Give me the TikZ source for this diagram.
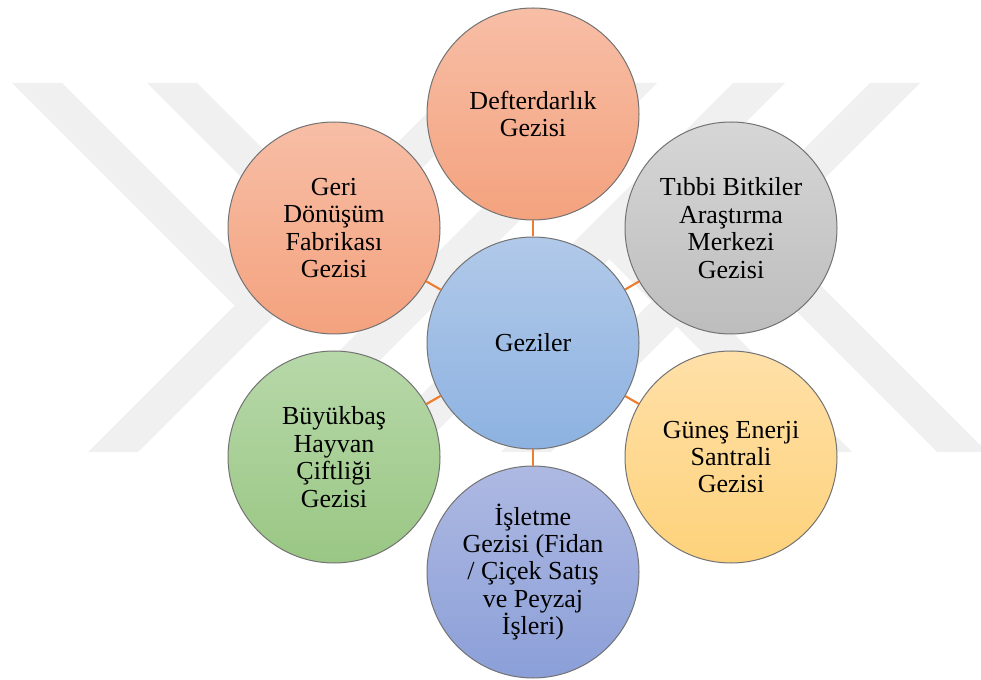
\documentclass[tikz,border=0pt]{standalone}
\usepackage{fontspec}
\setmainfont{Liberation Serif}
\definecolor{gzOrange}{HTML}{ED7D31}
\definecolor{salmonTop}{HTML}{F7BEA6}
\definecolor{salmonBot}{HTML}{F4A27E}
\definecolor{greyTop}{HTML}{D6D6D6}
\definecolor{greyBot}{HTML}{BDBDBD}
\definecolor{blueTop}{HTML}{B1C9E9}
\definecolor{blueBot}{HTML}{8DB2E1}
\definecolor{sunTop}{HTML}{FFE0A8}
\definecolor{sunBot}{HTML}{FED27B}
\definecolor{lilacTop}{HTML}{AEB9E2}
\definecolor{lilacBot}{HTML}{8B9FD8}
\definecolor{leafTop}{HTML}{B7D8A9}
\definecolor{leafBot}{HTML}{9AC784}
\begin{document}
\begin{tikzpicture}[x=0.75pt,y=-0.75pt,
    gzMark/.style={fill=black!6},
    gzCircle/.style={circle,draw=black!55,line width=0.75pt,minimum size=159pt,
        inner sep=0pt,align=center,font=\fontsize{19.5}{20.6}\selectfont},
    gzLink/.style={draw=gzOrange,line width=1.6pt},
]
\useasboundingbox (0,0) rectangle (981,680);
% Watermark
\fill[gzMark] (457,83) -- (507,83) -- (138,452) -- (88,452) -- cycle;
\fill[gzMark] (607,83) -- (657,83) -- (288,452) -- (238,452) -- cycle;
\fill[gzMark] (733,83) -- (785,83) -- (416,452) -- (364,452) -- cycle;
\fill[gzMark] (870,83) -- (920,83) -- (551,452) -- (501,452) -- cycle;
\fill[gzMark] (12,83) -- (62,83) -- (272,293) -- (247,318) -- cycle;
\fill[gzMark] (147,83) -- (197,83) -- (414.5,300.5) -- (389.5,325.5) -- cycle;
\fill[gzMark] (937,452) -- (987,452) -- (756.5,221.5) -- (731.5,246.5) -- cycle;
\fill[gzMark] (802,452) -- (852,452) -- (621,221) -- (596,246) -- cycle;
% Circles
\node[gzCircle,top color=blueTop,bottom color=blueBot] (geziler) at (533,343) {Geziler};
\node[gzCircle,top color=salmonTop,bottom color=salmonBot] (defter) at (533,114) {Defterdarlık\\Gezisi};
\node[gzCircle,top color=greyTop,bottom color=greyBot] (tibbi) at (731,228) {Tıbbi Bitkiler\\Araştırma\\Merkezi\\Gezisi};
\node[gzCircle,top color=sunTop,bottom color=sunBot] (gunes) at (731,457) {Güneş Enerji\\Santrali\\Gezisi};
\node[gzCircle,top color=lilacTop,bottom color=lilacBot] (isletme) at (533,572) {İşletme\\Gezisi (Fidan\\/ Çiçek Satış\\ve Peyzaj\\İşleri)};
\node[gzCircle,top color=leafTop,bottom color=leafBot] (buyukbas) at (334,457) {Büyükbaş\\Hayvan\\Çiftliği\\Gezisi};
\node[gzCircle,top color=salmonTop,bottom color=salmonBot] (geri) at (334,228) {Geri\\Dönüşüm\\Fabrikası\\Gezisi};
% Links
\foreach \gzTo in {defter,tibbi,gunes,isletme,buyukbas,geri}
  \draw[gzLink] (geziler) -- (\gzTo);
\end{tikzpicture}
\end{document}
